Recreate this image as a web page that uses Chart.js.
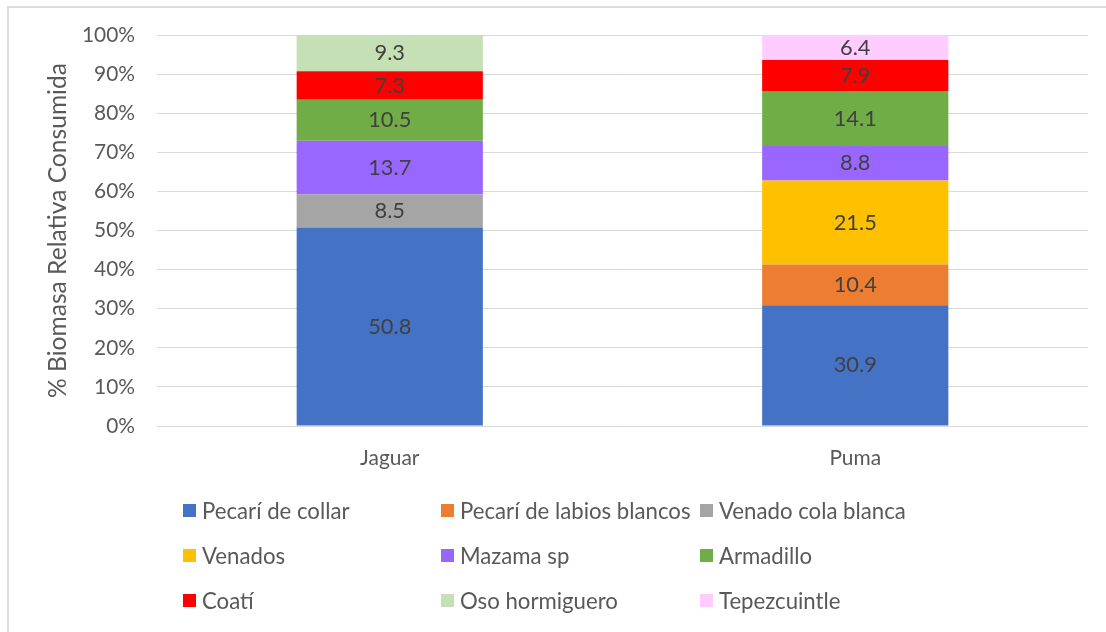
<!DOCTYPE html>
<html><head><meta charset="utf-8">
<script src="https://cdn.jsdelivr.net/npm/chart.js@4.4.0/dist/chart.umd.min.js"></script>
<style>
html,body{margin:0;padding:0;background:#fff;overflow:hidden}
#wrap{position:relative;width:1106px;height:632px;overflow:hidden}
#frame{position:absolute;left:7px;top:6px;width:1130px;height:660px;border-left:2px solid #DCDCDC;border-top:2px solid #DCDCDC;box-sizing:border-box}
canvas{position:absolute;left:0;top:0}
#legend{position:absolute;left:0;top:0;width:1106px;height:632px}
.li{position:absolute;display:flex;align-items:center;height:26px;white-space:nowrap;color:#595959}
.sw{width:13px;height:13px;margin-right:6px;flex:none}
</style></head><body>
<div id="wrap"><div id="frame"></div><canvas id="c" width="1106" height="632"></canvas><div id="legend"></div></div>
<script>
// ---- data ----
const categories = ['Jaguar', 'Puma'];
const seriesNames = ['Pecarí de collar', 'Pecarí de labios blancos', 'Venado cola blanca', 'Venados', 'Mazama sp', 'Armadillo', 'Coatí', 'Oso hormiguero', 'Tepezcuintle'];
const pecariCollar     = [50.8, 30.9];
const pecariLabios     = [null, 10.4];
const venadoColaBlanca = [8.5, null];
const venados          = [null, 21.5];
const mazama           = [13.7, 8.8];
const armadillo        = [10.5, 14.1];
const coati            = [7.3, 7.9];
const osoHormiguero    = [9.3, null];
const tepezcuintle     = [null, 6.4];
const yTicks = [0, 10, 20, 30, 40, 50, 60, 70, 80, 90, 100];
const yTitle = '% Biomasa Relativa Consumida';

// ---- styling ----
const seriesValues = [pecariCollar, pecariLabios, venadoColaBlanca, venados, mazama, armadillo, coati, osoHormiguero, tepezcuintle];
const seriesColors = ['#4472C4', '#ED7D31', '#A5A5A5', '#FFC000', '#9966FF', '#70AD47', '#FF0000', '#C5E0B4', '#FFCCFF'];
const FAMILY = 'Lato, "Open Sans", sans-serif';
const TEXT = '#595959';

const mctx = document.createElement('canvas').getContext('2d');
function fit(text, target) {
  mctx.font = '100px ' + FAMILY;
  return Math.round(1000 * target / mctx.measureText(text).width) / 10;
}
const tickSize = fit('100%', 53);
const legendSize = fit('Pecarí de labios blancos', 231);
const labelSize = fit('50.8', 43);
const titleSize = fit(yTitle, 335);

const totals = categories.map((_, i) => seriesValues.reduce((s, arr) => s + (arr[i] || 0), 0));

const datasets = seriesNames.map((name, k) => ({
  label: name,
  raw: seriesValues[k],
  data: seriesValues[k].map((v, i) => v == null ? null : v / totals[i] * 100),
  backgroundColor: seriesColors[k],
  borderWidth: 0,
  categoryPercentage: 1,
  barPercentage: 0.4
}));

const valueLabels = {
  id: 'valueLabels',
  afterDatasetsDraw(chart) {
    const c = chart.ctx;
    c.save();
    c.font = labelSize + 'px ' + FAMILY;
    c.fillStyle = '#404040';
    c.textAlign = 'center';
    c.textBaseline = 'middle';
    chart.data.datasets.forEach((ds, di) => {
      const meta = chart.getDatasetMeta(di);
      meta.data.forEach((bar, i) => {
        const v = ds.raw[i];
        if (v == null) return;
        const p = bar.getProps(['x', 'y', 'base'], true);
        c.fillText(v.toFixed(1), p.x, (p.y + p.base) / 2);
      });
    });
    c.restore();
  }
};

new Chart(document.getElementById('c'), {
  type: 'bar',
  data: { labels: categories, datasets },
  plugins: [valueLabels],
  options: {
    responsive: false,
    animation: false,
    devicePixelRatio: 1,
    layout: { padding: { left: 0, right: 18, top: 35, bottom: 0 } },
    plugins: { legend: { display: false }, tooltip: { enabled: false } },
    scales: {
      x: {
        stacked: true,
        grid: { display: false },
        border: { display: false },
        ticks: { color: TEXT, font: { family: FAMILY, size: tickSize }, padding: 12 },
        afterFit(s) { s.height = 206; }
      },
      y: {
        stacked: true,
        min: 0, max: 100,
        afterBuildTicks(s) { s.ticks = yTicks.map(v => ({ value: v })); },
        grid: { color: '#D9D9D9', lineWidth: 1, drawTicks: false },
        border: { display: false },
        ticks: { color: TEXT, font: { family: FAMILY, size: tickSize }, padding: 22, callback: v => v + '%' },
        title: {
          display: true, text: yTitle, color: TEXT,
          font: { family: FAMILY, size: titleSize },
          padding: { top: 58 - titleSize * 0.6, bottom: 0 }
        },
        afterFit(s) { s.width = 157; }
      }
    }
  }
});

// ---- legend (3-column grid) ----
const colX = [183, 441, 700];
const rowY = [510, 555, 600];
const lg = document.getElementById('legend');
seriesNames.forEach((name, k) => {
  const d = document.createElement('div');
  d.className = 'li';
  d.style.left = colX[k % 3] + 'px';
  d.style.top = (rowY[Math.floor(k / 3)] - 13) + 'px';
  d.style.font = legendSize + 'px ' + FAMILY;
  const sw = document.createElement('span');
  sw.className = 'sw';
  sw.style.background = seriesColors[k];
  const t = document.createElement('span');
  t.textContent = name;
  d.appendChild(sw); d.appendChild(t);
  lg.appendChild(d);
});
</script>
</body></html>
